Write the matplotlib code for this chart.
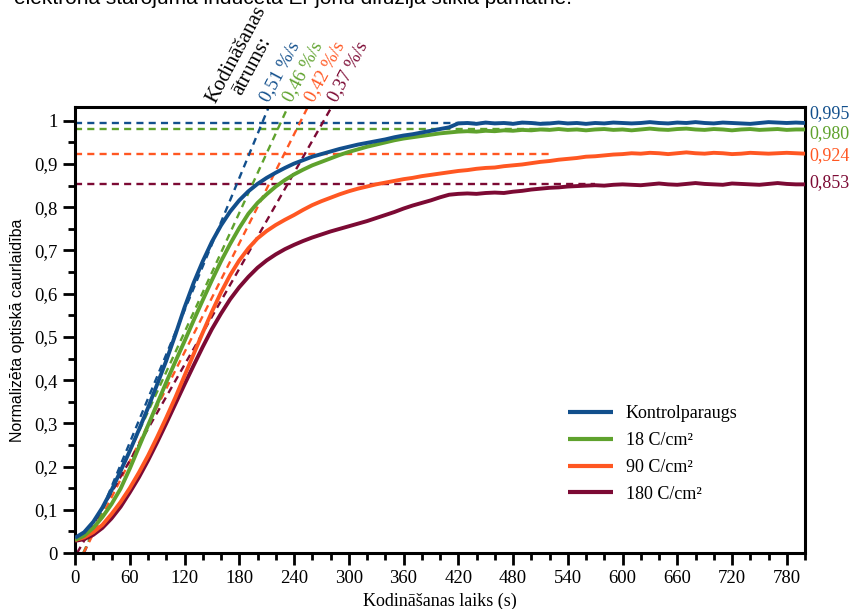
import numpy as np
import matplotlib
matplotlib.use("Agg")
import matplotlib.pyplot as plt
from matplotlib.ticker import MultipleLocator, FixedLocator

# ---- data -------------------------------------------------------------
time_s = list(range(0, 801, 10))

control = [0.035, 0.048, 0.072, 0.105, 0.145, 0.190, 0.236, 0.285, 0.336, 0.390,
           0.445, 0.505, 0.568, 0.625, 0.675, 0.720, 0.758, 0.790, 0.816, 0.837,
           0.854, 0.868, 0.880, 0.891, 0.901, 0.909, 0.917, 0.923, 0.929, 0.935,
           0.940, 0.945, 0.949, 0.953, 0.957, 0.962, 0.966, 0.969, 0.973, 0.977,
           0.981, 0.985, 0.994, 0.995, 0.993, 0.996, 0.994, 0.995, 0.993, 0.996,
           0.995, 0.993, 0.994, 0.996, 0.994, 0.995, 0.993, 0.995, 0.994, 0.996,
           0.995, 0.994, 0.995, 0.997, 0.995, 0.994, 0.996, 0.995, 0.997, 0.995,
           0.994, 0.996, 0.995, 0.994, 0.993, 0.995, 0.997, 0.996, 0.995, 0.996,
           0.995]

dose_18 = [0.030, 0.040, 0.058, 0.083, 0.113, 0.149, 0.195, 0.245, 0.295, 0.345,
           0.395, 0.443, 0.490, 0.538, 0.585, 0.631, 0.675, 0.715, 0.752, 0.785,
           0.810, 0.830, 0.848, 0.863, 0.876, 0.887, 0.897, 0.905, 0.913, 0.921,
           0.928, 0.934, 0.940, 0.945, 0.950, 0.955, 0.959, 0.962, 0.965, 0.968,
           0.971, 0.973, 0.975, 0.976, 0.975, 0.977, 0.976, 0.978, 0.977, 0.979,
           0.978, 0.980, 0.979, 0.981, 0.979, 0.980, 0.978, 0.980, 0.981, 0.979,
           0.980, 0.978, 0.980, 0.982, 0.980, 0.979, 0.981, 0.982, 0.980, 0.979,
           0.981, 0.980, 0.978, 0.980, 0.981, 0.979, 0.980, 0.981, 0.979, 0.980,
           0.980]

dose_90 = [0.030, 0.036, 0.048, 0.065, 0.090, 0.118, 0.150, 0.186, 0.225, 0.268,
           0.313, 0.360, 0.410, 0.460, 0.510, 0.558, 0.603, 0.643, 0.677, 0.705,
           0.728, 0.745, 0.759, 0.771, 0.782, 0.794, 0.805, 0.814, 0.822, 0.830,
           0.837, 0.843, 0.848, 0.853, 0.857, 0.861, 0.865, 0.868, 0.872, 0.875,
           0.878, 0.881, 0.884, 0.886, 0.889, 0.891, 0.892, 0.895, 0.897, 0.899,
           0.902, 0.905, 0.907, 0.910, 0.912, 0.914, 0.917, 0.918, 0.920, 0.922,
           0.923, 0.925, 0.924, 0.926, 0.925, 0.923, 0.925, 0.927, 0.925, 0.924,
           0.926, 0.925, 0.923, 0.924, 0.926, 0.925, 0.924, 0.925, 0.926, 0.925,
           0.924]

dose_180 = [0.028, 0.032, 0.042, 0.058, 0.080, 0.107, 0.140, 0.175, 0.214, 0.256,
            0.300, 0.345, 0.390, 0.434, 0.477, 0.518, 0.554, 0.587, 0.615, 0.639,
            0.660, 0.677, 0.691, 0.703, 0.713, 0.722, 0.730, 0.737, 0.744, 0.750,
            0.756, 0.762, 0.768, 0.775, 0.782, 0.789, 0.797, 0.804, 0.810, 0.816,
            0.823, 0.829, 0.831, 0.832, 0.831, 0.833, 0.834, 0.833, 0.836, 0.838,
            0.841, 0.843, 0.845, 0.846, 0.848, 0.849, 0.850, 0.851, 0.850, 0.852,
            0.853, 0.852, 0.851, 0.853, 0.855, 0.853, 0.852, 0.854, 0.856, 0.854,
            0.853, 0.852, 0.855, 0.854, 0.853, 0.852, 0.854, 0.856, 0.854, 0.853,
            0.853]

series_names = ["Kontrolparaugs", "18 C/cm²", "90 C/cm²", "180 C/cm²"]
plateau = [0.995, 0.980, 0.924, 0.853]
plateau_labels = ["0,995", "0,980", "0,924", "0,853"]
plateau_end_s = [520, 520, 520, 570]
rate_pct_per_s = [0.51, 0.46, 0.42, 0.37]
rate_labels = ["0,51 %/s", "0,46 %/s", "0,42 %/s", "0,37 %/s"]
tangent_t_at_075 = [157, 172, 188, 205]

x_ticks = list(range(0, 781, 60))
y_ticks = [round(0.1 * i, 1) for i in range(11)]
y_tick_labels = ["0", "0,1", "0,2", "0,3", "0,4", "0,5", "0,6", "0,7", "0,8", "0,9", "1"]

colors = ["#124f8c", "#5fa22d", "#ff5722", "#7c0a34"]

# ---- figure -----------------------------------------------------------
W, H = 855, 609
SERIF = "Liberation Serif"
SANS = "Liberation Sans"
plt.rcParams["font.family"] = SERIF

fig = plt.figure(figsize=(W / 100, H / 100), dpi=100)
L, R, T, B = 75, 805, 107, 553
ax = fig.add_axes([L / W, 1 - B / H, (R - L) / W, (B - T) / H])

XMAX, YMAX = 800, 1.032
ax.set_xlim(0, XMAX)
ax.set_ylim(0, YMAX)

# plateau levels
for lvl, end, c in zip(plateau, plateau_end_s, colors):
    ax.plot([0, end], [lvl, lvl], color=c, lw=1.7, ls=(0, (3, 2.2)), zorder=2)

# initial-rate tangent lines
for rate, t75, c in zip(rate_pct_per_s, tangent_t_at_075, colors):
    k = rate / 100.0
    t0 = t75 - 0.75 / k
    t1 = t75 + (YMAX - 0.75) / k
    ax.plot([t0, t1], [0, YMAX], color=c, lw=1.7, ls=(0, (3, 2.2)), zorder=2)

# measured curves
series = [control, dose_18, dose_90, dose_180]
order = [3, 2, 1, 0]
handles = [None] * 4
for i in order:
    h, = ax.plot(time_s, series[i], color=colors[i], lw=2.8, zorder=3 + (3 - i),
                 solid_joinstyle="round", solid_capstyle="butt")
    handles[i] = h

# axes styling
for s in ax.spines.values():
    s.set_linewidth(2.2)
ax.xaxis.set_major_locator(FixedLocator(x_ticks))
ax.xaxis.set_minor_locator(MultipleLocator(20))
ax.yaxis.set_major_locator(FixedLocator(y_ticks))
ax.yaxis.set_minor_locator(MultipleLocator(0.05))
ax.set_xticklabels([str(v) for v in x_ticks])
ax.set_yticklabels(y_tick_labels)
ax.tick_params(which="major", direction="out", length=8.5, width=2, labelsize=13.5, pad=4)
ax.tick_params(which="minor", direction="out", length=5, width=2)
ax.tick_params(top=False, right=False, which="both")

ax.set_xlabel("Kodināšanas laiks (s)", fontsize=13)
ax.xaxis.set_label_coords(0.5, (B - 601) / (B - T))
ax.xaxis.label.set_va("center")
ax.set_ylabel("Normalizēta optiskā caurlaidība", fontsize=11.5, family=SANS)
ax.yaxis.set_label_coords((18 - L) / (R - L), 0.5)
ax.yaxis.label.set_va("center")

leg = ax.legend(handles, series_names, loc="upper left",
                bbox_to_anchor=((568 - L) / (R - L), (B - 405) / (B - T)),
                frameon=False, fontsize=13, handlelength=2.5, handletextpad=0.7,
                labelspacing=0.55, borderpad=0, borderaxespad=0)
for ln in leg.get_lines():
    ln.set_linewidth(3)


def px(x, y):
    return x / W, 1 - y / H


# value labels on the right
label_offsets_px = [-9, 4, 2, -2]
for lvl, txt, c, dy in zip(plateau, plateau_labels, colors, label_offsets_px):
    ypx = B - lvl * (B - T) / YMAX + dy
    fig.text(*px(809, ypx), txt, color=c, fontsize=13, va="center", ha="left")

# rotated annotation block
ANG = 62
fig.text(*px(215, 104), "Kodināšanas", fontsize=15, rotation=ANG,
         rotation_mode="anchor", ha="left", va="baseline")
fig.text(*px(241, 96), "ātrums:", fontsize=15, rotation=ANG,
         rotation_mode="anchor", ha="left", va="baseline")
rate_starts = [(268, 103), (291, 103), (313, 103), (336, 103)]
for (x0, y0), txt, c in zip(rate_starts, rate_labels, colors):
    fig.text(*px(x0, y0), txt, color=c, fontsize=13.5, rotation=ANG,
             rotation_mode="anchor", ha="left", va="baseline")

# caption line running off the top edge
fig.text(*px(14, 4.5), "elektrona starojuma inducētā Er jonu difūzija stikla pamatnē.",
         fontsize=15, family=SANS, ha="left", va="baseline")

fig.savefig("out.png", dpi=100)
